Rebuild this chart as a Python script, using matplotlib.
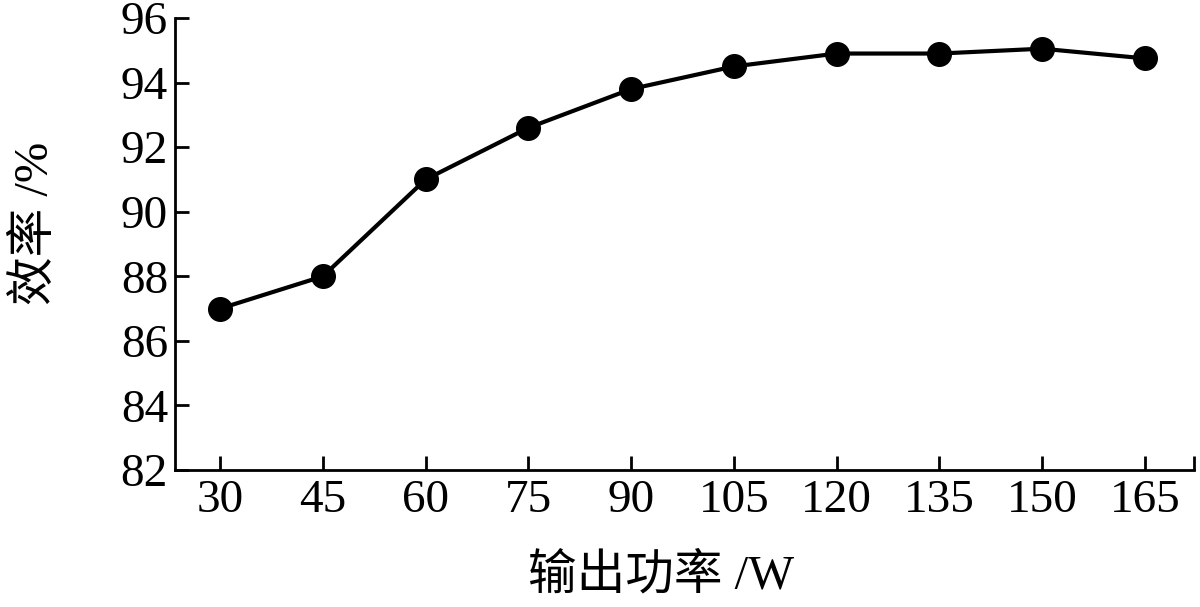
import matplotlib
matplotlib.use("Agg")
import matplotlib.pyplot as plt

power_w = [30, 45, 60, 75, 90, 105, 120, 135, 150, 165]
efficiency = [87.0, 88.0, 91.0, 92.6, 93.8, 94.5, 94.9, 94.9, 95.05, 94.75]
y_ticks = [82, 84, 86, 88, 90, 92, 94, 96]
x_label = "输出功率 /W"
y_label = "效率 /%"

plt.rcParams['font.family'] = ['Liberation Serif', 'Noto Sans CJK SC']

fig = plt.figure(figsize=(12, 6.07), dpi=100)
ax = fig.add_axes([0.1458, 0.2257, 0.849, 0.7446])

ax.plot(power_w, efficiency, color='black', linewidth=3, marker='o',
        markersize=17, markerfacecolor='black', markeredgecolor='black',
        clip_on=False, zorder=3)

xmin, xmax = 23.4, 172.15
ax.set_xlim(xmin, xmax)
ax.set_ylim(82, 96)
ax.set_xticks(power_w)
ax.set_xticklabels([str(v) for v in power_w])
ax.set_xticks([xmax], minor=True)
ax.set_yticks(y_ticks)

for s in ['top', 'right']:
    ax.spines[s].set_visible(False)
for s in ['left', 'bottom']:
    ax.spines[s].set_linewidth(2)

ax.tick_params(axis='both', which='both', direction='in', length=10, width=2,
               labelsize=34, colors='black')
ax.tick_params(axis='x', pad=7)
ax.tick_params(axis='y', pad=5)

ax.set_xlabel(x_label, fontsize=35)
ax.set_ylabel(y_label, fontsize=35)
ax.xaxis.set_label_coords(0.477, -0.184)
ax.yaxis.set_label_coords(-0.115, 0.546)

fig.savefig("out.png", dpi=100, facecolor='white')
